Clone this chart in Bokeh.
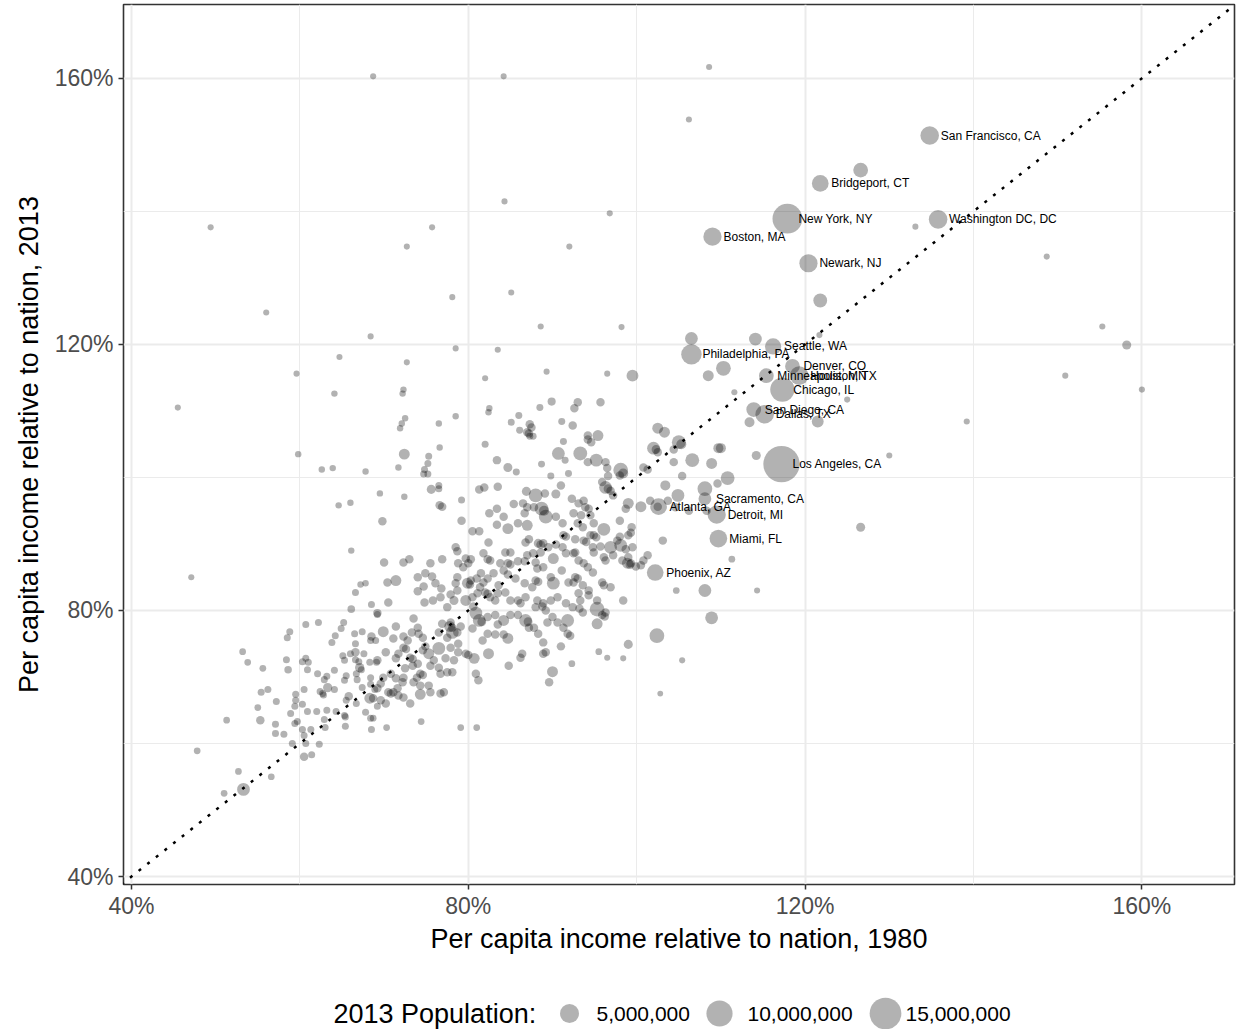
import math
from bokeh.plotting import figure
from bokeh.models import Range1d, FixedTicker, PrintfTickFormatter, Slope, ColumnDataSource, Label
from bokeh.layouts import column
from bokeh.embed import file_html
from bokeh.resources import INLINE
from bokeh.core.properties import value

FONT = "Liberation Sans"

# ---- Labelled metro areas: per capita income relative to nation (%), 1980 and 2013; population (millions)
city_names = ["San Francisco, CA", "Bridgeport, CT", "New York, NY", "Washington DC, DC", "Boston, MA",
              "Newark, NJ", "Seattle, WA", "Philadelphia, PA", "Denver, CO", "Houston, TX",
              "Minneapolis, MN", "Chicago, IL", "San Diego, CA", "Dallas, TX", "Los Angeles, CA",
              "Sacramento, CA", "Atlanta, GA", "Detroit, MI", "Miami, FL", "Phoenix, AZ"]
city_1980 = [134.8, 121.8, 117.9, 135.8, 109.0, 120.4, 116.2, 106.5, 118.5, 119.3,
             115.4, 117.3, 113.9, 115.2, 117.2, 108.1, 102.6, 109.5, 109.7, 102.2]
city_2013 = [151.4, 144.2, 138.9, 138.8, 136.2, 132.2, 119.7, 118.5, 116.7, 115.3,
             115.3, 113.2, 110.2, 109.5, 102.0, 96.8, 95.6, 94.4, 90.8, 85.7]
city_pop = [4.8, 3.8, 13.2, 4.8, 4.6, 4.6, 3.6, 5.9, 2.9, 4.8,
            2.9, 8.5, 2.9, 4.8, 20.0, 2.1, 3.8, 4.6, 4.3, 3.8]

# ---- Scattered outliers (mostly small metros)
outlier_1980 = [45.5, 49.4, 56.0, 68.4, 59.6, 64.7, 68.7, 84.2, 108.6, 106.2,
                75.7, 72.7, 84.3, 96.8, 92.0, 85.1, 78.1, 88.6, 98.2, 83.5,
                78.5, 72.7, 82.0, 89.3, 133.1, 148.7, 155.3, 158.2, 150.9, 160.0,
                139.2, 130.0, 126.6, 125.0, 121.7, 47.1, 64.1, 59.8, 62.6, 63.9,
                67.8, 66.0, 64.6, 66.1, 67.8, 67.2]
outlier_2013 = [110.5, 137.6, 124.8, 121.2, 115.6, 118.1, 160.3, 160.3, 161.7, 153.8,
                137.6, 134.7, 141.5, 139.7, 134.7, 127.8, 127.1, 122.7, 122.6, 119.2,
                119.4, 117.3, 114.9, 115.9, 137.7, 133.2, 122.7, 119.9, 115.3, 113.2,
                108.4, 103.3, 92.5, 111.7, 121.4, 85.0, 112.6, 103.5, 101.2, 101.4,
                100.9, 96.2, 95.8, 89.0, 84.1, 83.9]
outlier_pop = [.35, .35, .35, .35, .35, .35, .35, .35, .35, .35,
               .35, .35, .35, .35, .35, .35, .35, .35, .35, .35,
               .35, .35, .35, .35, .35, .35, .35, .94, .35, .35,
               .35, .35, .94, .35, .35, .35, .4, .4, .4, .4,
               .4, .4, .4, .4, .4, .4]

# ---- Upper-middle band
upper_1980 = [72.3, 72.2, 72.5, 72.1, 71.9, 76.5, 78.5, 76.6, 72.4, 75.3,
              75.2, 74.8, 74.7, 75.2, 71.7, 69.5, 72.4, 75.6, 76.5, 76.5,
              79.2, 82.5, 82.4, 89.9, 88.5, 86.0, 85.1, 86.1, 87.3, 87.5,
              87.2, 87.0, 87.7, 87.3, 91.1, 82.0, 83.4, 84.7, 85.7, 90.7,
              91.3, 91.5, 88.7, 89.8, 91.9, 81.3, 81.9, 83.5, 86.9, 88.0,
              89.1, 90.4, 91.0]
upper_2013 = [113.2, 112.6, 108.9, 108.1, 107.4, 108.1, 109.2, 104.5, 103.5, 103.2,
              102.1, 101.2, 100.5, 100.5, 101.5, 97.6, 97.1, 98.2, 98.8, 98.3,
              96.6, 110.4, 109.8, 111.4, 110.5, 109.3, 108.3, 107.1, 108.0, 107.5,
              106.6, 106.8, 106.2, 106.2, 108.4, 105.0, 102.6, 101.5, 100.8, 103.6,
              105.4, 102.6, 102.0, 100.2, 100.6, 98.2, 98.5, 98.6, 97.9, 97.3,
              97.6, 97.5, 98.8]
upper_pop = [.4, .4, .4, .4, .4, .4, .4, .4, 1.47, .5,
             .5, .5, .5, .5, .4, .4, .4, .94, .5, .5,
             .5, .4, .4, .72, .5, .5, .5, .5, .8, .8,
             .8, .8, .5, .5, .5, .5, .8, .94, .5, 2.1,
             .5, .5, .5, .5, .5, .8, .8, .8, .94, 2.5,
             .8, .94, .8]

# ---- Lower-left band
low_1980 = [66.6, 68.5, 66.1, 69.2, 60.7, 62.2, 65.2, 64.9, 58.8, 58.5,
            64.2, 66.5, 67.4, 68.5, 63.8, 66.6, 68.4, 69.0, 53.2, 53.8,
            58.4, 60.3, 60.7, 61.0, 66.6, 67.6, 65.1, 66.0, 65.3, 66.6,
            67.0, 68.3, 69.1, 55.6, 58.6, 60.9, 67.1, 67.3, 66.7, 64.1,
            62.1, 63.2, 65.5, 62.9, 65.3, 66.8, 68.4, 56.2, 55.4, 60.5,
            63.3, 64.1, 62.4, 62.7, 62.8, 67.4, 68.4, 68.9, 59.5, 57.2,
            59.5, 60.3, 59.4, 65.8, 65.5, 66.7, 68.3, 69.2, 55.0, 60.9,
            62.0, 63.2, 64.3, 65.3, 65.4, 67.8, 51.3, 55.3, 57.1, 58.9,
            59.7, 59.4, 62.9, 65.4, 68.4, 60.3, 61.3, 63.0, 57.1, 58.1,
            60.5, 68.5, 59.1, 60.7, 62.3, 47.8, 60.5, 61.4, 52.7, 56.6,
            53.3, 51.0]
low_2013 = [82.7, 80.9, 80.2, 79.4, 77.9, 78.2, 78.2, 77.3, 76.8, 75.9,
            76.2, 76.5, 76.8, 76.1, 75.2, 75.0, 75.5, 75.5, 73.8, 72.2,
            72.6, 72.3, 72.8, 72.2, 73.7, 73.5, 73.2, 73.5, 72.5, 72.6,
            72.3, 72.2, 72.2, 71.3, 71.1, 71.1, 71.4, 71.1, 70.5, 71.0,
            70.5, 70.1, 70.2, 69.6, 69.5, 69.6, 69.9, 68.1, 67.7, 68.1,
            68.4, 68.1, 67.8, 67.5, 67.3, 68.4, 68.9, 68.1, 67.4, 66.3,
            66.5, 65.9, 65.6, 67.1, 66.5, 66.0, 66.8, 65.6, 65.4, 64.8,
            64.8, 65.0, 64.8, 64.2, 64.0, 64.7, 63.5, 63.5, 62.9, 64.5,
            63.3, 63.0, 63.6, 62.6, 63.8, 62.1, 62.1, 62.4, 61.5, 61.4,
            61.2, 62.1, 60.0, 60.0, 59.9, 58.9, 58.0, 58.3, 55.8, 55.0,
            53.1, 52.5]
low_pop = [.5, .5, .6, .5, .5, .5, .5, .5, .5, .5,
           .5, .5, .5, .8, .5, .5, .5, .5, .45, .45,
           .5, .5, .5, .5, .8, .5, .5, .5, .5, .5,
           .5, .5, .5, .45, .6, .5, 1.0, .5, .5, .5,
           .5, .5, .5, .5, .5, .5, .5, .5, .5, .5,
           1.0, .5, .5, .5, .5, .5, .5, .5, .5, .5,
           .5, .5, .5, .8, .5, .5, 1.47, .5, .45, .5,
           .5, .5, .5, .5, .5, .5, .45, .8, .5, .5,
           .5, .5, .5, .5, .5, .5, .5, .5, .5, .5,
           .5, .5, .5, .5, .5, .45, .8, .5, .45, .45,
           2.1, .45]

# ---- Dense core around the diagonal
core_1980 = [76.6, 76.9, 69.8, 79.2, 82.5, 83.4, 84.2, 83.4, 84.7, 85.4,
             86.5, 87.0, 86.7, 87.8, 88.7, 89.0, 89.2, 90.4, 87.0, 85.9,
             91.2, 80.5, 81.3, 82.4, 84.4, 85.0, 81.8, 82.3, 82.6, 86.8,
             87.2, 88.3, 88.6, 88.9, 89.5, 90.4, 91.2, 91.6, 91.3, 91.6,
             87.7, 88.6, 88.0, 88.2, 88.9, 87.0, 86.7, 85.9, 90.1, 91.1,
             89.8, 90.1, 88.0, 88.3, 87.6, 86.7, 85.6, 84.7, 85.0, 84.2,
             84.7, 83.8, 83.0, 82.3, 83.6, 84.4, 83.5, 82.6, 83.2, 85.0,
             85.9, 86.2, 88.2, 88.9, 89.8, 88.0, 88.8, 89.2, 90.6, 91.6,
             86.8, 81.8, 81.4, 82.0, 82.3, 81.1, 80.3, 79.9, 80.2, 80.5,
             79.7, 80.6, 79.4, 80.0, 79.7, 78.8, 78.5, 78.7, 80.3, 81.5,
             81.0, 78.7, 78.5, 78.7, 77.9, 78.3, 77.5, 76.7, 76.8, 75.7,
             76.1, 75.5, 74.9, 76.9, 74.7, 74.0, 74.8, 75.8, 71.4, 70.4,
             72.3, 73.0, 70.0, 74.0, 70.5, 69.2, 71.4, 69.9, 73.5, 74.0,
             73.3, 74.1, 74.6, 72.3, 72.8, 72.3, 72.6, 71.1, 70.2, 69.2,
             71.7, 71.4, 73.1, 73.4, 73.4, 74.0, 72.5, 74.6, 74.9, 75.3,
             75.9, 74.3, 74.6, 73.9, 73.5, 74.3, 72.3, 72.2, 71.6, 70.8,
             71.4, 69.9, 69.6, 70.5, 70.8, 69.2, 68.7, 69.6, 70.2, 71.1,
             71.7, 72.3, 73.1, 74.3, 76.5, 77.5, 77.9, 78.1, 78.7, 79.1,
             76.5, 76.9, 77.9, 77.8, 78.1, 78.8, 78.8, 79.7, 80.0, 78.3,
             77.3, 76.5, 75.5, 76.7, 77.5, 78.1, 75.3, 75.5, 76.7, 77.1,
             80.5, 80.7, 81.7, 82.4, 81.3, 81.6, 80.9, 82.3, 83.2, 83.5,
             84.2, 85.0, 85.9, 86.8, 87.1, 87.2, 87.8, 88.3, 89.4, 90.0,
             90.6, 91.3, 91.8, 91.8, 88.9, 89.2, 88.9, 91.0, 86.4, 86.2,
             84.7, 84.2, 83.2, 84.8, 82.3, 90.0, 89.6, 80.9, 81.2, 68.7,
             70.3, 74.4, 79.1, 81.0]
core_2013 = [95.8, 95.6, 93.4, 93.5, 94.6, 95.3, 94.1, 92.9, 92.3, 96.0,
             96.1, 95.5, 94.6, 95.5, 95.3, 95.0, 94.1, 94.1, 92.8, 93.1,
             93.1, 91.9, 91.9, 90.2, 88.7, 88.7, 88.6, 87.7, 87.5, 90.2,
             90.7, 90.1, 89.9, 90.1, 89.5, 89.9, 89.5, 88.6, 91.3, 91.1,
             88.6, 88.7, 87.2, 86.3, 86.5, 88.3, 87.4, 87.4, 87.8, 86.0,
             85.0, 84.1, 84.5, 84.3, 83.5, 84.1, 84.8, 87.1, 86.9, 86.0,
             85.4, 87.1, 85.6, 84.8, 83.8, 82.7, 82.6, 82.0, 81.5, 81.5,
             81.5, 81.1, 81.5, 81.1, 81.5, 80.5, 80.6, 80.0, 82.0, 81.1,
             82.0, 84.2, 83.5, 82.7, 82.5, 82.6, 84.5, 84.1, 83.9, 82.0,
             81.5, 80.6, 86.5, 87.1, 87.8, 87.1, 89.5, 88.9, 87.7, 85.6,
             84.8, 85.0, 84.1, 83.0, 82.4, 81.5, 80.5, 82.0, 83.3, 85.1,
             84.1, 87.1, 85.6, 87.7, 83.6, 82.9, 81.2, 81.5, 84.5, 84.2,
             87.2, 87.7, 87.2, 85.0, 81.2, 79.6, 77.6, 76.8, 78.8, 77.4,
             76.7, 76.5, 75.9, 76.1, 75.5, 74.4, 74.2, 75.8, 73.7, 72.5,
             73.5, 72.8, 72.9, 72.7, 71.7, 72.0, 71.3, 74.0, 74.6, 73.5,
             72.5, 70.5, 70.3, 69.9, 69.2, 68.7, 69.9, 69.2, 68.3, 70.5,
             69.8, 69.9, 69.0, 67.7, 67.5, 68.3, 66.8, 66.5, 66.0, 67.7,
             67.2, 66.9, 66.0, 67.4, 74.3, 75.9, 74.4, 76.7, 76.7, 77.6,
             76.7, 78.0, 78.2, 77.6, 77.4, 75.0, 73.7, 73.5, 73.3, 72.5,
             72.8, 71.4, 71.7, 70.5, 70.7, 70.7, 68.7, 67.7, 67.5, 67.7,
             77.3, 72.8, 75.5, 73.5, 78.5, 78.3, 79.6, 79.0, 79.3, 77.9,
             78.5, 79.3, 79.3, 78.5, 78.3, 77.4, 77.4, 76.5, 78.2, 79.0,
             78.2, 77.4, 78.5, 76.5, 75.2, 73.7, 73.5, 74.6, 73.5, 72.9,
             75.8, 76.4, 76.4, 71.7, 76.5, 70.8, 69.2, 70.5, 69.5, 63.8,
             62.4, 63.3, 62.4, 62.4]
core_pop = [.8, .8, .8, .8, .8, .8, .8, .8, 1.47, .8,
            .8, .8, .8, .8, 2.5, 1.2, 2.5, .8, 1.47, .8,
            .8, .8, .8, .8, .8, .8, .8, .8, .8, .8,
            .8, .9, .9, .8, .8, .8, .8, .8, .8, .8,
            .8, .8, .8, .8, .8, .8, .8, .8, 1.47, .8,
            .8, 2.1, .8, .8, .8, .8, .8, .8, .8, .8,
            .8, .8, .8, .8, .8, .8, .8, .8, .8, .8,
            .8, .8, .8, .8, .8, .8, .8, .8, .8, .8,
            .8, .8, .8, .8, .8, .8, .8, 1.47, .8, .8,
            1.47, .8, .8, .8, .8, .8, .8, .8, .8, .8,
            .8, .8, .8, .8, .8, .94, .8, .8, .8, .8,
            .8, .8, .8, .8, .8, .8, .8, .8, 1.47, .8,
            .8, .8, .8, .8, .8, .8, .8, 1.47, .8, .8,
            .8, .8, .8, .8, .8, .8, .8, .8, .8, .8,
            .8, .8, .8, .8, .8, .8, .8, .8, .8, 1.47,
            .8, .8, .8, .8, .8, .8, .8, .8, .8, .8,
            .8, .8, .8, .8, .8, .8, .8, .8, .8, .8,
            .8, .8, .8, 1.47, 2.1, .8, .8, 2.1, .8, .8,
            .8, .8, .8, 1.47, .8, .8, .8, .8, .8, .8,
            .8, .8, .8, .8, .8, .8, .8, .8, .8, .8,
            .8, 1.47, .8, 1.47, 2.1, .9, 2.1, .8, .8, .8,
            1.47, .8, .8, 2.1, .9, .8, .8, .8, .8, .8,
            .8, .8, 2.1, .8, .8, .8, .8, .8, .8, .8,
            1.47, .8, .8, .8, .8, 1.47, .8, .8, .8, .45,
            .45, .45, .45, .45]

# ---- Right-hand group (higher 1980 incomes)
right_1980 = [93.0, 92.6, 95.7, 96.5, 113.4, 92.4, 95.4, 94.2, 94.2, 94.6,
              93.3, 95.2, 94.2, 96.3, 96.5, 102.5, 103.3, 102.0, 102.3, 102.5,
              105.0, 105.3, 104.4, 106.6, 108.9, 109.7, 110.0, 114.2, 104.4, 100.8,
              101.3, 98.1, 98.4, 98.0, 96.6, 95.9, 96.3, 96.6, 96.9, 97.2,
              99.0, 98.7, 100.5, 101.6, 102.5, 103.4, 103.7, 104.9, 105.4, 108.1,
              110.8, 109.6, 108.3, 104.6, 106.2, 103.1, 111.3, 101.3, 100.8, 100.5,
              98.9, 99.2, 99.9, 104.7, 108.1, 114.3, 92.3, 93.1, 93.7, 93.9,
              92.5, 93.4, 93.6, 94.3, 94.5, 93.0, 94.9, 96.1, 94.9, 94.5,
              95.2, 93.7, 94.0, 92.7, 94.8, 95.7, 96.9, 97.7, 98.1, 99.3,
              99.0, 99.4, 98.0, 98.0, 96.1, 96.3, 97.2, 94.9, 92.7, 92.5,
              93.1, 93.7, 94.2, 94.8, 92.7, 93.0, 92.5, 91.9, 93.6, 94.3,
              94.3, 93.1, 93.3, 95.3, 96.1, 96.9, 95.9, 98.3, 99.0, 99.3,
              98.7, 99.5, 98.4, 92.4, 93.2, 93.6, 95.3, 95.9, 96.2, 96.3,
              95.3, 92.1, 95.5, 96.5, 98.4, 99.0, 92.3, 108.9, 102.4, 105.4,
              102.8, 110.3, 108.5, 99.5, 106.5, 114.1, 111.6, 121.5, 121.8, 126.6]
right_2013 = [111.3, 110.4, 111.3, 115.6, 108.3, 107.8, 106.3, 106.3, 105.7, 105.3,
              103.6, 102.6, 102.3, 102.3, 101.4, 107.4, 106.8, 104.4, 104.2, 103.8,
              105.3, 105.0, 104.2, 102.6, 102.1, 104.4, 104.4, 103.3, 102.3, 101.5,
              101.2, 101.1, 100.6, 100.3, 100.2, 99.3, 98.5, 98.3, 98.0, 97.3,
              96.1, 95.3, 95.6, 96.5, 95.6, 98.8, 96.5, 97.3, 100.2, 98.3,
              99.9, 99.1, 95.0, 95.5, 95.0, 90.5, 87.7, 88.3, 87.5, 86.8,
              87.1, 86.9, 86.6, 83.0, 83.0, 83.0, 96.8, 96.1, 96.5, 95.5,
              94.6, 94.3, 92.5, 95.3, 94.3, 93.1, 93.1, 92.2, 91.3, 91.3,
              91.0, 90.5, 90.3, 90.7, 89.5, 89.6, 89.5, 90.5, 89.8, 91.7,
              91.3, 92.5, 93.5, 91.1, 88.0, 87.5, 88.3, 88.7, 88.7, 88.6,
              87.5, 87.1, 86.5, 85.7, 85.0, 84.8, 84.2, 84.2, 83.8, 83.0,
              82.3, 82.6, 81.5, 81.5, 83.8, 83.5, 84.2, 87.5, 88.0, 87.1,
              89.2, 89.5, 81.5, 80.5, 80.3, 79.7, 80.2, 79.3, 79.1, 79.7,
              78.0, 76.2, 73.8, 72.9, 72.8, 74.9, 72.0, 78.9, 76.2, 72.5,
              67.5, 116.4, 115.3, 115.3, 120.9, 120.8, 112.8, 108.4, 126.6, 146.2]
right_pop = [.8, .8, .8, .35, 1.19, .8, 1.47, .8, .8, .8,
             2.5, 2.1, .8, .8, .8, 1.47, 1.47, 2.1, .9, .8,
             2.5, 1.2, .8, 2.5, 1.47, 1.2, 1.2, .94, .8, .8,
             .8, 2.9, 1.2, .8, .8, .8, 2.1, .9, .8, .8,
             1.47, .8, 1.47, .8, .8, 1.19, .8, 2.1, .8, 2.9,
             2.5, .8, .8, .8, .8, .8, .45, .8, .8, .8,
             1.47, .9, .8, .45, 2.1, .35, .8, .8, .8, .8,
             .8, .8, .8, .8, .8, .8, .8, 2.1, .8, .8,
             .8, .8, .8, .8, .8, .8, 2.1, .8, 2.1, .8,
             .8, .8, .8, .8, .8, .8, .8, .8, .8, .8,
             .8, .8, .8, .8, .8, .8, .8, .8, .8, .8,
             .8, .8, .8, .8, .8, .8, .8, .8, .8, .8,
             .8, .8, .8, .8, .8, .8, 2.9, .8, .8, .8,
             1.47, .8, .45, .35, .35, .94, .45, 2.1, 2.9, .35,
             .3, 2.9, 1.47, 1.78, 2.1, 2.1, .35, 1.78, 2.5, 2.9]

# ---- Axis ticks and legend entries
tick_values = [40, 80, 120, 160]
minor_values = [60, 100, 140]
legend_pops = [5, 10, 15]
legend_labels = ["5,000,000", "10,000,000", "15,000,000"]

inc_1980 = outlier_1980 + upper_1980 + low_1980 + core_1980 + right_1980
inc_2013 = outlier_2013 + upper_2013 + low_2013 + core_2013 + right_2013
pop_m = outlier_pop + upper_pop + low_pop + core_pop + right_pop
n = min(len(inc_1980), len(inc_2013), len(pop_m))


def diameter(pm):
    # area scale for population (millions) -> marker diameter in px
    return 1.5 + 7.8 * math.sqrt(pm)


src = ColumnDataSource(dict(x=inc_1980[:n], y=inc_2013[:n], s=[diameter(v) for v in pop_m[:n]]))
city_src = ColumnDataSource(dict(x=city_1980, y=city_2013, s=[diameter(v) for v in city_pop], name=city_names))

p = figure(width=1238, height=960, x_range=Range1d(39.05, 171.0), y_range=Range1d(38.8, 171.1),
           output_backend="svg", toolbar_location=None,
           min_border_left=123, min_border_right=4, min_border_top=4, min_border_bottom=76)
p.background_fill_color = "white"
p.border_fill_color = "white"
ticker = FixedTicker(ticks=tick_values, minor_ticks=minor_values)
p.xaxis.ticker = ticker
p.yaxis.ticker = ticker
p.xgrid.ticker = ticker
p.ygrid.ticker = ticker
for g in (p.xgrid, p.ygrid):
    g.grid_line_color = "#EBEBEB"
    g.grid_line_width = 2
    g.minor_grid_line_color = "#EBEBEB"
    g.minor_grid_line_width = 1
p.outline_line_color = "#333333"
p.outline_line_width = 1.6
for ax in (p.xaxis, p.yaxis):
    ax.formatter = PrintfTickFormatter(format="%d%%")
    ax.axis_line_color = None
    ax.major_tick_line_color = "#333333"
    ax.major_tick_line_width = 1.5
    ax.major_tick_out = 5
    ax.major_tick_in = 0
    ax.minor_tick_line_color = None
    ax.major_label_text_font = FONT
    ax.major_label_text_font_size = "23px"
    ax.major_label_text_color = "#4D4D4D"
    ax.axis_label_text_font = FONT
    ax.axis_label_text_font_size = "27px"
    ax.axis_label_text_font_style = "normal"
    ax.axis_label_text_color = "black"
p.xaxis.axis_label = "Per capita income relative to nation, 1980"
p.yaxis.axis_label = "Per capita income relative to nation, 2013"
p.xaxis.major_label_standoff = 3
p.xaxis.axis_label_standoff = 2
p.yaxis.major_label_standoff = 5
p.yaxis.axis_label_standoff = 8

p.scatter('x', 'y', size='s', source=src, fill_color="black", fill_alpha=0.3, line_color=None)
p.scatter('x', 'y', size='s', source=city_src, fill_color="black", fill_alpha=0.3, line_color=None)
p.add_layout(Slope(gradient=1, y_intercept=0, line_color="black", line_width=2.5, line_dash="3 8"))
p.text(x='x', y='y', text='name', source=city_src, x_offset=11, text_baseline="middle",
       text_align="left", text_font=value(FONT), text_font_size="12px", text_color="black")

# ---- Legend strip (its frame lines up with the main plot frame; x range is in page pixels)
lg = figure(width=1238, height=69, x_range=Range1d(123, 1234), y_range=Range1d(0, 69),
            output_backend="svg", toolbar_location=None, min_border=0,
            x_axis_type=None, y_axis_type=None)
lg.grid.visible = False
lg.outline_line_color = None
lg.scatter(x=[569, 719, 885], y=[16, 16, 16], size=[diameter(v) for v in legend_pops],
           fill_color="black", fill_alpha=0.3, line_color=None)
lg.add_layout(Label(x=333, y=16, text="2013 Population:", text_baseline="middle",
                    text_font=FONT, text_font_size="27px", text_color="black"))
for lx, t in zip([596, 747, 905], legend_labels):
    lg.add_layout(Label(x=lx, y=16, text=t, text_baseline="middle",
                        text_font=FONT, text_font_size="21px", text_color="black"))

layout = column(p, lg)
open("out.html", "w").write(file_html(layout, INLINE))
